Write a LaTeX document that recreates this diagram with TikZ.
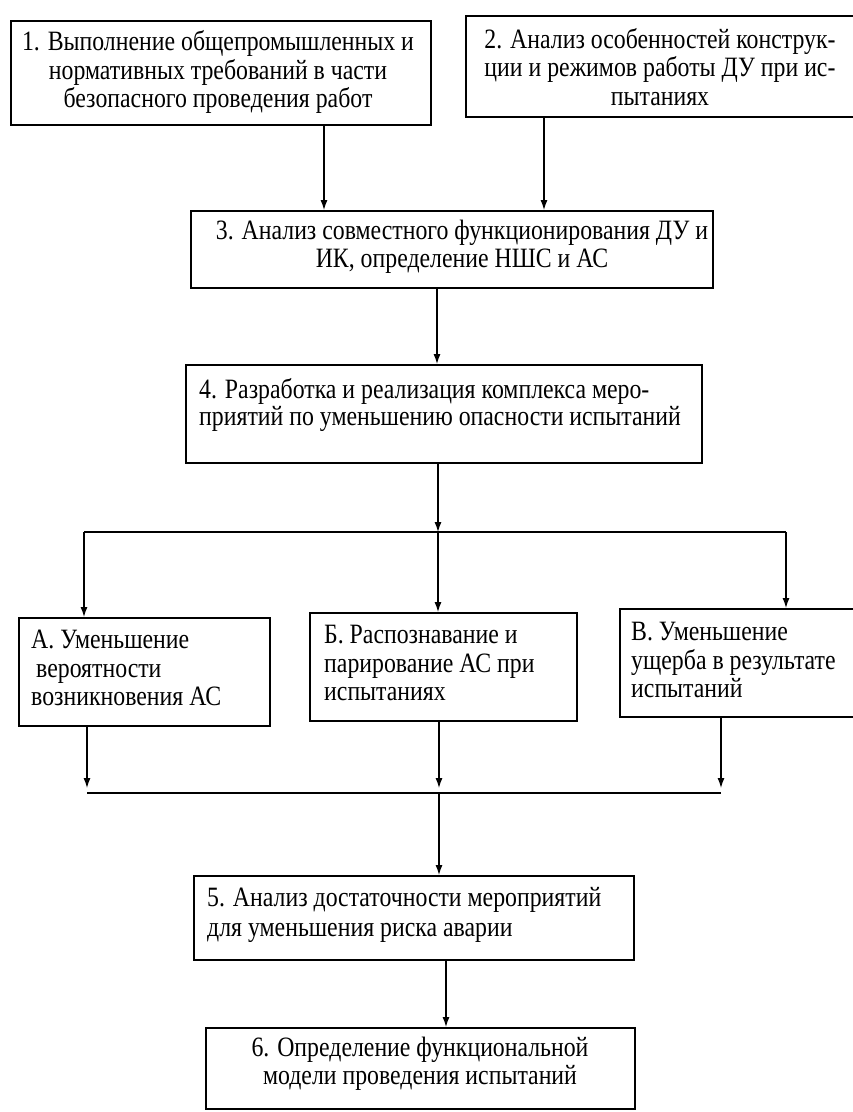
\documentclass[tikz,border=0pt]{standalone}
\usepackage{fontspec}
\setmainfont{Liberation Serif}[FakeStretch=0.85]
\usetikzlibrary{arrows.meta}
\begin{document}
\begin{tikzpicture}[x=1pt,y=-1pt,
  box/.style={draw, line width=1.6pt, inner sep=0pt, anchor=north west},
  txt/.style={inner sep=0pt, font=\fontsize{28}{28.5}\selectfont, align=#1},
  arr/.style={-{Latex[length=10pt,width=7pt]}, line width=1.2pt},
  ln/.style={line width=1.5pt}]
\useasboundingbox (0,0) rectangle (853,1112);

% frames
\node[box, minimum width=420pt, minimum height=104pt] (b1) at (10,20) {};
\node[box, minimum width=395pt, minimum height=101pt] (b2) at (465,15) {};
\node[box, minimum width=522pt, minimum height=77pt]  (b3) at (190,210) {};
\node[box, minimum width=516pt, minimum height=98pt]  (b4) at (185,364) {};
\node[box, minimum width=251pt, minimum height=108pt] (bA) at (18,617) {};
\node[box, minimum width=267pt, minimum height=108pt] (bB) at (309,612) {};
\node[box, minimum width=245pt, minimum height=108pt] (bC) at (619,608) {};
\node[box, minimum width=440pt, minimum height=84pt]  (b5) at (193,875) {};
\node[box, minimum width=429pt, minimum height=81pt]  (b6) at (205,1027) {};

% texts
\node[txt=center] (t1) at (218,72) {1. Выполнение общепромышленных и\\нормативных требований в части\\безопасного проведения работ};
\node[txt=center] (t2) at (660,67) {2. Анализ особенностей конструк-\\ции и режимов работы ДУ при ис-\\пытаниях};
\node[txt=center] (t3) at (462,247) {3. Анализ совместного функционирования ДУ и\\ИК, определение НШС и АС};
\node[txt=left, font=\fontsize{28}{24.5}\selectfont, anchor=west] (t4) at (199,405) {4. Разработка и реализация комплекса меро-\\приятий по уменьшению опасности испытаний};
\node[txt=left, anchor=west] (tA) at (31,668) {А. Уменьшение\\\hspace{5pt}вероятности\\возникновения АС};
\node[txt=left, anchor=west] (tB) at (324,663) {Б. Распознавание и\\парирование АС при\\испытаниях};
\node[txt=left, anchor=west] (tC) at (631,660) {В. Уменьшение\\ущерба в результате\\испытаний};
\node[txt=left, font=\fontsize{28}{30}\selectfont, anchor=west] (t5) at (207,915) {5. Анализ достаточности мероприятий\\для уменьшения риска аварии};
\node[txt=center] (t6) at (420,1064) {6. Определение функциональной\\модели проведения испытаний};

% junction points
\coordinate (sL) at (84,532);
\coordinate (sM) at (438,532);
\coordinate (sR) at (786,532);
\coordinate (jL) at (87,793);
\coordinate (jM) at (439,793);
\coordinate (jR) at (721,793);

% connectors
\draw[arr] (b1.south -| 324,0) -- (b3.north -| 324,0);
\draw[arr] (b2.south -| 544,0) -- (b3.north -| 544,0);
\draw[arr] (b3.south -| 437,0) -- (b4.north -| 437,0);
\draw[arr] (b4.south -| sM) -- (sM);
\draw[ln] (sL) -- (sR);
\draw[arr] (sL) -- (bA.north -| sL);
\draw[arr] (sM) -- (bB.north -| sM);
\draw[arr] (sR) -- (bC.north -| sR);
\draw[arr, shorten >=5pt] (bA.south -| jL) -- (jL);
\draw[arr, shorten >=5pt] (bB.south -| jM) -- (jM);
\draw[arr, shorten >=5pt] (bC.south -| jR) -- (jR);
\draw[ln] (jL) -- (jR);
\draw[arr] (jM) -- (b5.north -| jM);
\draw[arr] (b5.south -| 446,0) -- (b6.north -| 446,0);
\end{tikzpicture}
\end{document}
